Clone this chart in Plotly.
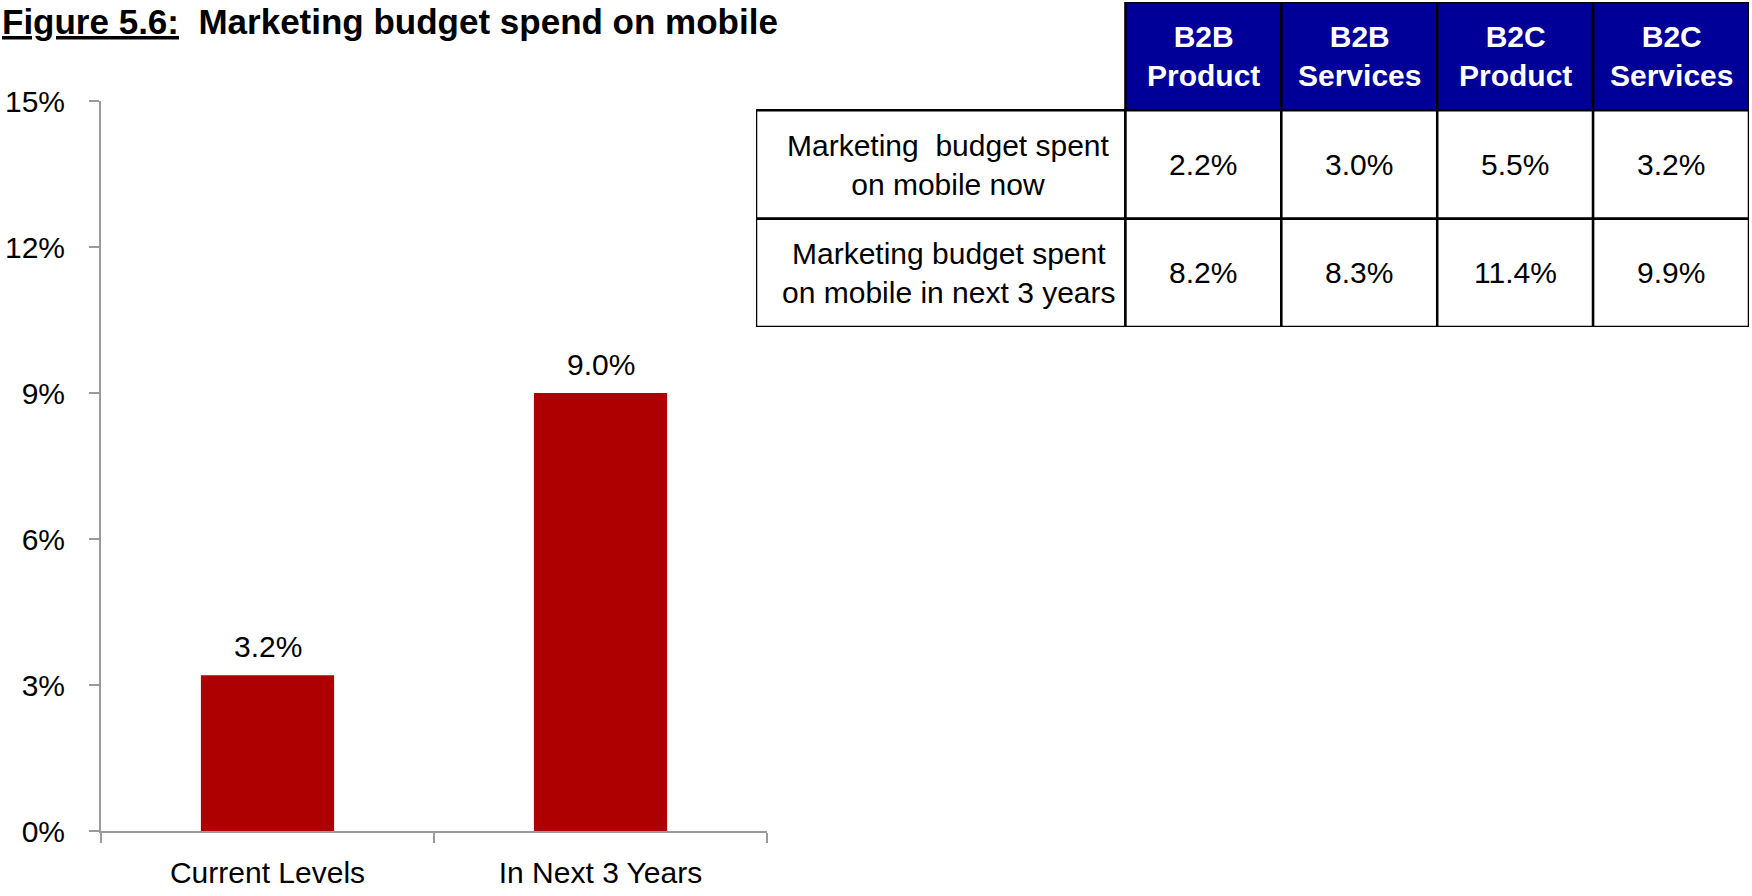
import plotly.graph_objects as go

# Bar chart data: share of marketing budget spent on mobile (%)
periods = ["Current Levels", "In Next 3 Years"]
spend = [3.2, 9.0]
y_ticks = [0, 3, 6, 9, 12, 15]
y_tick_text = ["0%", "3%", "6%", "9%", "12%", "15%"]

# Table data
segments = ["B2B<br>Product", "B2B<br>Services", "B2C<br>Product", "B2C<br>Services"]
row_labels = ["Marketing  budget spent<br>on mobile now",
              "Marketing budget spent<br>on mobile in next 3 years"]
spend_now = ["2.2%", "3.0%", "5.5%", "3.2%"]
spend_next3 = ["8.2%", "8.3%", "11.4%", "9.9%"]

title_text = "<b><u>Figure 5.6:</u>  Marketing budget spend on mobile</b>"

FONT = "Liberation Sans, Arial, Helvetica, sans-serif"
FS = 30
BAR_RED = "#AE0000"
HEADER_BLUE = "#000099"
AXIS_GREY = "#9A9A9A"
W, H = 1752, 896

fig = go.Figure()

fig.add_trace(go.Bar(
    x=periods, y=spend, width=0.4,
    marker=dict(color=BAR_RED, line=dict(width=0)),
    hoverinfo="skip",
))

# empty trace so the table's helper axes exist
fig.add_trace(go.Scatter(x=[None], y=[None], xaxis="x2", yaxis="y2",
                         mode="markers", hoverinfo="skip"))

annotations = []

# value labels above the bars
for p, v in zip(periods, spend):
    annotations.append(dict(xref="x", yref="y", x=p, y=v, text=f"{v:.1f}%",
                            showarrow=False, yanchor="middle", yshift=29,
                            font=dict(family=FONT, size=FS, color="black")))

# ---- table built on its own hidden axes ----
col_widths = [2.37, 1, 1, 1, 1]
edges = [0]
for w in col_widths:
    edges.append(edges[-1] + w)

shapes = []
body = [spend_now, spend_next3]

for c, seg in enumerate(segments):
    x0, x1 = edges[c + 1], edges[c + 2]
    shapes.append(dict(type="rect", xref="x2", yref="y2", x0=x0, x1=x1, y0=0, y1=1,
                       fillcolor=HEADER_BLUE, line=dict(color="black", width=2.5),
                       layer="below"))
    annotations.append(dict(xref="x2", yref="y2", x=(x0 + x1) / 2, y=0.5,
                            text=f"<b>{seg}</b>", showarrow=False,
                            font=dict(family=FONT, size=FS, color="white")))

for r, (label, vals) in enumerate(zip(row_labels, body)):
    y0, y1 = r + 1, r + 2
    shapes.append(dict(type="rect", xref="x2", yref="y2", x0=edges[0], x1=edges[1],
                       y0=y0, y1=y1, fillcolor="white",
                       line=dict(color="black", width=2.5), layer="below"))
    annotations.append(dict(xref="x2", yref="y2", x=(edges[0] + edges[1]) / 2,
                            y=(y0 + y1) / 2, text=label, showarrow=False,
                            xshift=8,
                            font=dict(family=FONT, size=FS, color="black")))
    for c, v in enumerate(vals):
        x0, x1 = edges[c + 1], edges[c + 2]
        shapes.append(dict(type="rect", xref="x2", yref="y2", x0=x0, x1=x1,
                           y0=y0, y1=y1, fillcolor="white",
                           line=dict(color="black", width=2.5), layer="below"))
        annotations.append(dict(xref="x2", yref="y2", x=(x0 + x1) / 2,
                                y=(y0 + y1) / 2, text=v, showarrow=False,
                                font=dict(family=FONT, size=FS, color="black")))

# figure title along the top edge
annotations.append(dict(xref="paper", yref="paper", x=0, y=1,
                        xanchor="left", yanchor="top", text=title_text,
                        showarrow=False, align="left",
                        font=dict(family=FONT, size=35, color="black")))

fig.update_layout(
    width=W, height=H,
    margin=dict(l=0, r=0, t=0, b=0, autoexpand=False),
    paper_bgcolor="white", plot_bgcolor="white",
    showlegend=False,
    font=dict(family=FONT, size=FS, color="black"),
    xaxis=dict(
        domain=[101 / W, 767 / W], anchor="y", automargin=False,
        type="category", range=[-0.5, 1.5],
        tickson="boundaries", ticks="outside", ticklen=10, tickwidth=2,
        tickcolor=AXIS_GREY, showline=True, linecolor=AXIS_GREY, linewidth=2,
        showgrid=False, zeroline=False, ticklabelstandoff=14,
        tickfont=dict(family=FONT, size=FS, color="black"),
    ),
    yaxis=dict(
        domain=[1 - 831 / H, 1 - 101 / H], anchor="x", automargin=False,
        range=[0, 15], tickmode="array", tickvals=y_ticks, ticktext=y_tick_text,
        ticks="outside", ticklen=10, tickwidth=2, tickcolor=AXIS_GREY,
        showline=True, linecolor=AXIS_GREY, linewidth=2,
        showgrid=False, zeroline=False,
        ticklabelstandoff=18,
        tickfont=dict(family=FONT, size=FS, color="black"),
    ),
    xaxis2=dict(domain=[756 / W, 1749 / W], anchor="y2", automargin=False,
                range=[0, edges[-1]], visible=False, fixedrange=True),
    yaxis2=dict(domain=[1 - 327 / H, 1 - 2 / H], anchor="x2", automargin=False,
                range=[3, 0], visible=False, fixedrange=True),
    shapes=shapes,
    annotations=annotations,
)

fig.write_html("out.html")
